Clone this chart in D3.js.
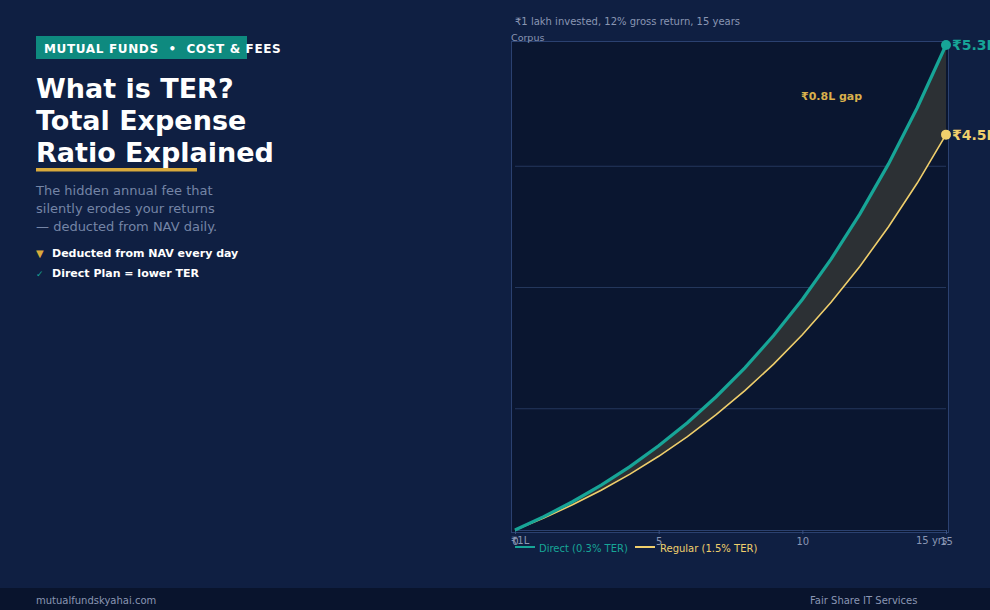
<!DOCTYPE html>
<html><head><meta charset="utf-8">
<script src="https://cdn.jsdelivr.net/npm/d3@7/dist/d3.min.js"></script>
<style>
html,body{margin:0;padding:0;background:#0f1f42;}
svg{display:block;font-family:"DejaVu Sans",sans-serif;}
</style></head>
<body>
<svg id="chart" width="990" height="610"></svg>
<script>
const years = [0,1,2,3,4,5,6,7,8,9,10,11,12,13,14,15];
const directValues = [1,1.117,1.248,1.394,1.557,1.739,1.942,2.170,2.424,2.707,3.024,3.378,3.773,4.214,4.707,5.258];
const regularValues = [1,1.105,1.221,1.349,1.491,1.647,1.820,2.012,2.223,2.456,2.714,2.999,3.314,3.662,4.046,4.471];
const xTicks = [0,5,10,15];
const seriesNames = ["Direct (0.3% TER)","Regular (1.5% TER)"];
const endLabels = ["₹5.3L","₹4.5L"];
const gapLabel = "₹0.8L gap";
const titleLines = ["What is TER?","Total Expense","Ratio Explained"];
const subtitleLines = ["The hidden annual fee that","silently erodes your returns","— deducted from NAV daily."];
const bullets = [{icon:"▼",text:"Deducted from NAV every day"},{icon:"✓",text:"Direct Plan = lower TER"}];

const svg = d3.select("#chart");
const TEAL = "#17a597", YEL = "#f0cf6c", GRAY = "#8a96b3";

svg.append("rect").attr("width",990).attr("height",610).attr("fill","#0f1f42");
// footer
svg.append("rect").attr("x",0).attr("y",588).attr("width",990).attr("height",22).attr("fill","#09142d");
svg.append("text").attr("x",36).attr("y",604).attr("fill",GRAY).attr("font-size",10).text("mutualfundskyahai.com");
svg.append("text").attr("x",810).attr("y",604).attr("fill",GRAY).attr("font-size",10).text("Fair Share IT Services");

// left panel
svg.append("rect").attr("x",36).attr("y",36).attr("width",211).attr("height",23).attr("fill","#0e8a7f");
svg.append("text").attr("x",44).attr("y",52.5).attr("fill","#fff").attr("font-weight","bold").attr("font-size",12)
  .attr("letter-spacing",0.65).style("white-space","pre").text("MUTUAL FUNDS  •  COST & FEES");
titleLines.forEach((t,i)=>{
  svg.append("text").attr("x",36).attr("y",98+i*32).attr("fill","#fff").attr("font-weight","bold").attr("font-size",27).text(t);
});
svg.append("rect").attr("x",36).attr("y",168).attr("width",161).attr("height",3.5).attr("fill","#d9aa3c");
subtitleLines.forEach((t,i)=>{
  svg.append("text").attr("x",36).attr("y",195+i*18).attr("fill","#7585a6").attr("font-size",13).text(t);
});
bullets.forEach((b,i)=>{
  svg.append("text").attr("x",36).attr("y",257+i*20).attr("fill",i===0?"#d9aa3c":TEAL).attr("font-size",i===0?10:9).text(b.icon);
  svg.append("text").attr("x",52).attr("y",257+i*20).attr("fill","#fff").attr("font-weight","bold").attr("font-size",11).text(b.text);
});

// chart
svg.append("text").attr("x",515).attr("y",25).attr("fill",GRAY).attr("font-size",10).text("₹1 lakh invested, 12% gross return, 15 years");
svg.append("rect").attr("x",511.5).attr("y",41.5).attr("width",437).attr("height",491).attr("fill","#0a1630").attr("stroke","#2b4170");
svg.append("text").attr("x",511).attr("y",41).attr("fill",GRAY).attr("font-size",9.5).text("Corpus");

const x = d3.scaleLinear().domain([0,15]).range([515,946]);
const yMax = d3.max(directValues);
const y = d3.scaleLinear().domain([1,yMax]).range([530,45]);

// gridlines
const gridVals = d3.range(1,4).map(k=>1+(yMax-1)*k/4);
svg.selectAll(".grid").data(gridVals).enter().append("line")
  .attr("x1",515).attr("x2",946).attr("y1",d=>y(d)).attr("y2",d=>y(d))
  .attr("stroke","#24375c").attr("stroke-width",1);

// x axis
const xAxis = svg.append("g").attr("transform","translate(0,530)")
  .call(d3.axisBottom(x).tickValues(xTicks).tickSize(4).tickPadding(4));
xAxis.select(".domain").attr("stroke","#2b4170");
xAxis.selectAll(".tick line").attr("stroke","#3a5080");
xAxis.selectAll("text").attr("fill",GRAY).attr("font-size",10).attr("font-family","DejaVu Sans");
svg.append("text").attr("x",511).attr("y",544).attr("fill",GRAY).attr("font-size",10).text("₹1L");
svg.append("text").attr("x",916).attr("y",544).attr("fill",GRAY).attr("font-size",10).text("15 yrs");

// area between
const data = years.map((yr,i)=>({yr,d:directValues[i],r:regularValues[i]}));
svg.append("path").datum(data)
  .attr("d",d3.area().x(d=>x(d.yr)).y0(d=>y(d.r)).y1(d=>y(d.d)))
  .attr("fill","#2c3034");
svg.append("path").datum(data)
  .attr("d",d3.line().x(d=>x(d.yr)).y(d=>y(d.r)))
  .attr("fill","none").attr("stroke",YEL).attr("stroke-width",1.6);
svg.append("path").datum(data)
  .attr("d",d3.line().x(d=>x(d.yr)).y(d=>y(d.d)))
  .attr("fill","none").attr("stroke",TEAL).attr("stroke-width",3.2);

// end markers
const last = data[data.length-1];
[[last.d,TEAL,endLabels[0]],[last.r,YEL,endLabels[1]]].forEach(([v,c,l])=>{
  svg.append("circle").attr("cx",x(15)).attr("cy",y(v)).attr("r",5).attr("fill",c);
  svg.append("text").attr("x",x(15)+6).attr("y",y(v)+5).attr("fill",c).attr("font-weight","bold").attr("font-size",14).text(l);
});
svg.append("text").attr("x",801).attr("y",100).attr("fill","#d9b04c").attr("font-weight","bold").attr("font-size",11).text(gapLabel);

// legend
const leg = svg.append("g");
[[TEAL,seriesNames[0],515,539],[YEL,seriesNames[1],635,660]].forEach(([c,t,lx,tx])=>{
  leg.append("line").attr("x1",lx).attr("x2",lx+20).attr("y1",547).attr("y2",547).attr("stroke",c).attr("stroke-width",2);
  leg.append("text").attr("x",tx).attr("y",552).attr("fill",c).attr("font-size",10).text(t);
});
</script>
</body></html>
